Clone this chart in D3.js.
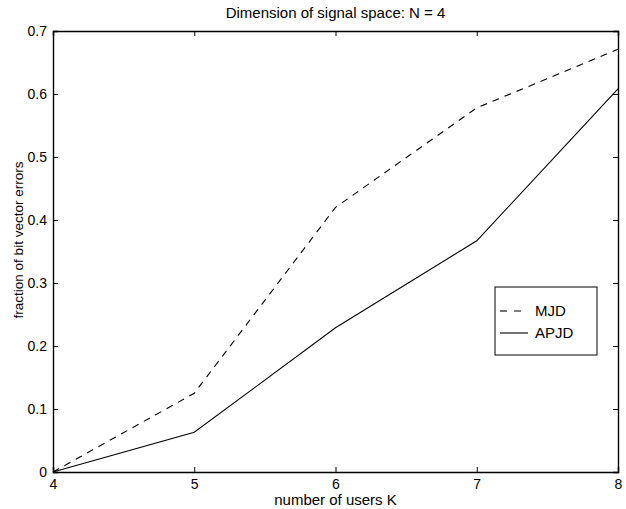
<!DOCTYPE html>
<meta charset="utf-8">
<style>
body { margin: 0; background: #fff; font-family: 'Liberation Sans', Arial, sans-serif; }
.axis text { font-size: 14px; fill: #000; font-family: 'Liberation Sans', Arial, sans-serif; }
.axis path, .axis line { stroke: #000; }
</style>
<body>
<svg width="626" height="509"></svg>
<script src="https://d3js.org/d3.v7.min.js"></script>
<script>
var users = [4, 5, 6, 7, 8];
var mjd = [0, 0.125, 0.42, 0.578, 0.671];
var apjd = [0, 0.063, 0.229, 0.367, 0.608];
var xTicks = [4, 5, 6, 7, 8];
var yTicks = [0, 0.1, 0.2, 0.3, 0.4, 0.5, 0.6, 0.7];
var seriesNames = ["MJD", "APJD"];

var margin = {top: 31, right: 8, bottom: 37, left: 53};
var width = 626 - margin.left - margin.right,
    height = 509 - margin.top - margin.bottom;

var svg = d3.select("svg");
var g = svg.append("g")
  .attr("transform", "translate(" + margin.left + "," + margin.top + ")");

var x = d3.scaleLinear().domain([4, 8]).range([0, width]);
var y = d3.scaleLinear().domain([0, 0.7]).range([height, 0]);

var fmt = function(d) { return d === 0 ? "0" : d3.format(".1f")(d); };

// axes with inward ticks on all four sides
g.append("g").attr("class", "axis")
  .attr("transform", "translate(0," + height + ")")
  .call(d3.axisBottom(x).tickValues(xTicks).tickSize(-5).tickPadding(7).tickFormat(d3.format("d")));
g.append("g").attr("class", "axis")
  .call(d3.axisTop(x).tickValues(xTicks).tickSize(-5).tickFormat(""));
g.append("g").attr("class", "axis")
  .call(d3.axisLeft(y).tickValues(yTicks).tickSize(-5).tickPadding(6).tickFormat(fmt));
g.append("g").attr("class", "axis")
  .attr("transform", "translate(" + width + ",0)")
  .call(d3.axisRight(y).tickValues(yTicks).tickSize(-5).tickFormat(""));
g.selectAll(".axis path").attr("stroke-width", 1.4);

var line = d3.line()
  .x(function(d, i) { return x(users[i]); })
  .y(function(d) { return y(d); });

g.append("path").datum(mjd)
  .attr("d", line)
  .attr("fill", "none").attr("stroke", "#000").attr("stroke-width", 1.1)
  .attr("stroke-dasharray", "7,6");
g.append("path").datum(apjd)
  .attr("d", line)
  .attr("fill", "none").attr("stroke", "#000").attr("stroke-width", 1.1);

// legend
var lg = svg.append("g").attr("transform", "translate(495,287)");
lg.append("rect").attr("width", 102).attr("height", 68)
  .attr("fill", "#fff").attr("stroke", "#000").attr("stroke-width", 1);
seriesNames.forEach(function(name, i) {
  var yy = 24 + i * 22;
  lg.append("line").attr("x1", 5).attr("x2", 33).attr("y1", yy).attr("y2", yy)
    .attr("stroke", "#000").attr("stroke-width", 1.1)
    .attr("stroke-dasharray", i === 0 ? "7,7" : null);
  lg.append("text").attr("x", 40).attr("y", yy + 5)
    .style("font-size", "15px").text(name);
});

svg.append("text").attr("x", margin.left + width / 2).attr("y", 18)
  .attr("text-anchor", "middle").style("font-size", "15px")
  .text("Dimension of signal space: N = 4");
svg.append("text").attr("x", margin.left + width / 2).attr("y", 505)
  .attr("text-anchor", "middle").style("font-size", "15px")
  .text("number of users K");
svg.append("text")
  .attr("transform", "translate(23,240) rotate(-90)")
  .attr("text-anchor", "middle").style("font-size", "13.5px")
  .text("fraction of bit vector errors");
</script>
</body>
